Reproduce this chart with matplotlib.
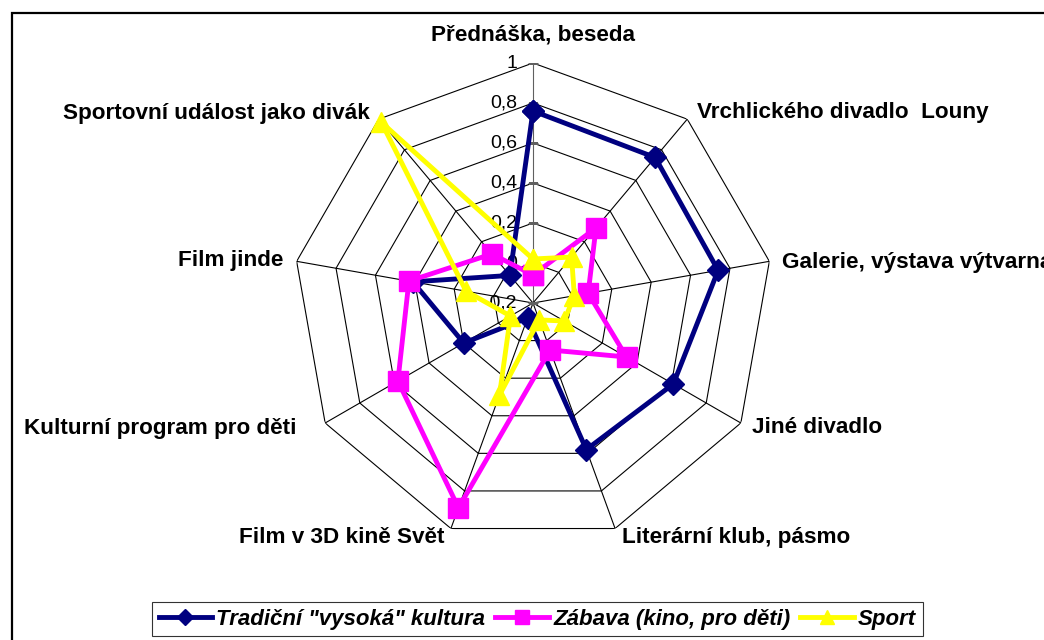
import numpy as np
import matplotlib
matplotlib.use("Agg")
import matplotlib.pyplot as plt
from matplotlib.patches import Rectangle

plt.rcParams['font.family'] = ['Liberation Sans', 'DejaVu Sans']

# kategorie (po směru hodinových ručiček od vrcholu)
categories = [
    "Přednáška, beseda",
    "Vrchlického divadlo  Louny",
    "Galerie, výstava výtvarna",
    "Jiné divadlo",
    "Literární klub, pásmo",
    "Film v 3D kině Svět",
    "Kulturní program pro děti",
    "Film jinde",
    "Sportovní událost jako divák",
]
series_names = ['Tradiční "vysoká" kultura', "Zábava (kino, pro děti)", "Sport"]
tradicni = [0.76, 0.75, 0.74, 0.61, 0.58, -0.12, 0.20, 0.41, -0.02]
zabava = [-0.06, 0.29, 0.08, 0.34, 0.05, 0.89, 0.58, 0.43, 0.12]
sport = [0.02, 0.10, 0.01, -0.02, -0.11, 0.29, -0.07, 0.14, 0.98]
r_ticks = [-0.2, 0, 0.2, 0.4, 0.6, 0.8, 1]
r_tick_labels = ["-0,2", "0", "0,2", "0,4", "0,6", "0,8", "1"]

W, H = 1044, 640
fig = plt.figure(figsize=(W / 100, H / 100), dpi=100)

# rámeček grafu (pokračuje za okraj obrázku)
fig.patches.append(Rectangle((12 / W, -0.1), 1.2, (H - 13) / H + 0.1,
                             transform=fig.transFigure, fill=False,
                             edgecolor="black", lw=1.6))

# polární osa: střed (533, 303), poloměr 240 px
cx, cy, R = 533, 303, 240
ax = fig.add_axes([(cx - R) / W, (H - cy - R) / H, 2 * R / W, 2 * R / H],
                  projection="polar")
ax.set_theta_offset(np.pi / 2)
ax.set_theta_direction(-1)
ax.set_ylim(-0.2, 1)
ax.set_xticks([])
ax.set_yticks([])
ax.grid(False)
ax.spines["polar"].set_visible(False)
ax.patch.set_alpha(0)

n = len(categories)
theta = np.arange(n) * 2 * np.pi / n
theta_c = np.append(theta, theta[0])

# mnohoúhelníková mřížka
for r in r_ticks[1:]:
    ax.plot(theta_c, [r] * (n + 1), color="black", lw=0.8, zorder=1)
for i, t in enumerate(theta):
    ax.plot([t, t], [-0.2, 1], color="#606060" if i == 0 else "black",
            lw=0.8, zorder=1)
ax.plot([0] * len(r_ticks), r_ticks, ls="none", marker="_", ms=7,
        color="#606060", mew=0.8, zorder=1)

# popisky radiální osy
for r, lab in zip(r_ticks, r_tick_labels):
    ax.annotate(lab, xy=(0, r), xytext=(-16, 0), textcoords="offset pixels",
                ha="right", va="center", fontsize=14, zorder=2)

# popisky kategorií
offsets = [(0, 28, "center"), (10, 7, "left"), (13, -1, "left"),
           (11, -5, "left"), (7, -9, "left"), (-6, -9, "right"),
           (-29, -5, "right"), (-13, 1, "right"), (-9, 6, "right")]
for t, lab, (dx, dy, ha) in zip(theta, categories, offsets):
    ax.annotate(lab, xy=(t, 1), xytext=(dx, dy), textcoords="offset pixels",
                ha=ha, va="center", fontsize=16.2, fontweight="bold",
                annotation_clip=False)

# datové řady
styles = [("#000080", "D", 11), ("#FF00FF", "s", 14), ("#FFFF00", "^", 14)]
handles = []
for vals, name, (col, mk, ms) in zip([tradicni, zabava, sport], series_names, styles):
    h, = ax.plot(theta_c, np.append(vals, vals[0]), color=col, lw=3.5,
                 marker=mk, ms=ms, mec=col, mfc=col, label=name, zorder=3,
                 clip_on=False)
    handles.append(h)

leg = fig.legend(handles=handles, loc="upper left",
                 bbox_to_anchor=(152 / W, 1 - 602 / H), ncol=3,
                 frameon=True, fancybox=False, edgecolor="black",
                 borderaxespad=0, borderpad=0.3, handlelength=2.4,
                 handletextpad=0.2, columnspacing=0.45, markerscale=0.75,
                 prop=dict(family="Liberation Sans", weight="bold",
                           style="italic", size=16))
leg.get_frame().set_linewidth(0.8)

fig.savefig("out.png", dpi=100)
